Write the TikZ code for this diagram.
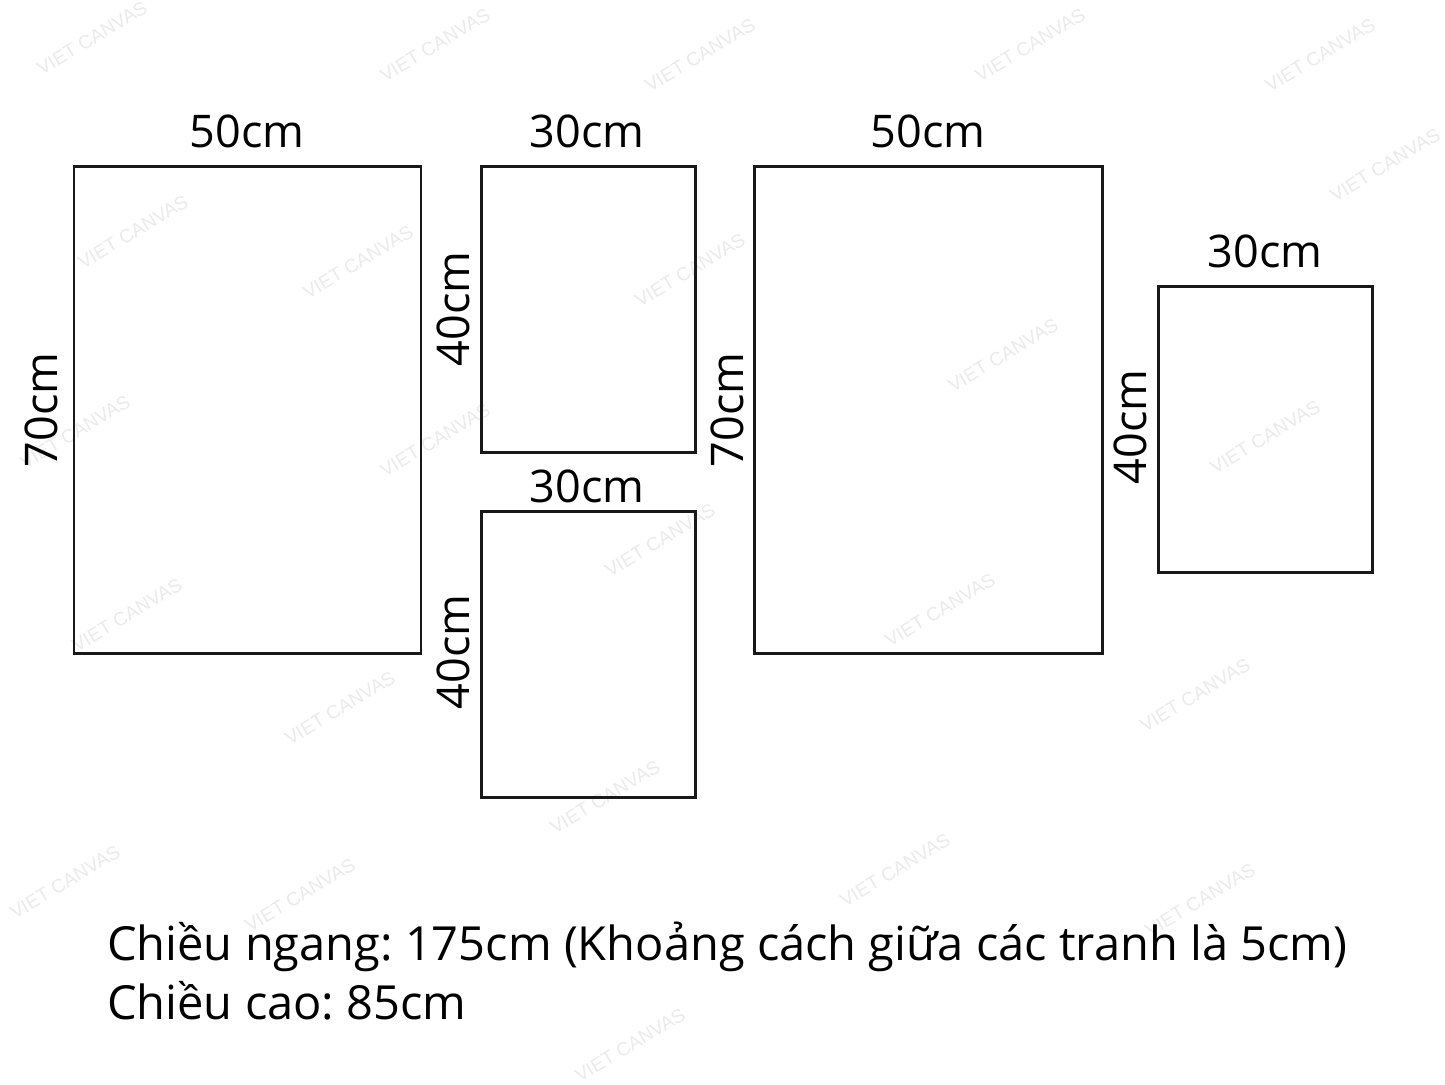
\documentclass[tikz,border=0pt]{standalone}
\usepackage{fontspec}
\setmainfont{Open Sans}
\newfontfamily\wmfont{Liberation Sans}
\frenchspacing
\begin{document}
\begin{tikzpicture}[x=1pt,y=-1pt,
  panel/.style={draw=black!90, line width=2.6pt, inner sep=0pt, anchor=north west},
  dim/.style={font=\fontsize{45}{50}\selectfont, inner sep=0pt, anchor=base},
  vdim/.style={dim, rotate=90},
  info/.style={font=\fontsize{47}{52}\selectfont, inner sep=0pt, anchor=base west},
  wm/.style={font=\wmfont\fontsize{19}{19}\selectfont, text=black!8, rotate=31, inner sep=0pt}]
\useasboundingbox[fill=white] (0,0) rectangle (1445,1084);
% watermarks
\foreach \i/\p in {1/{(92,38)},2/{(435,45)},3/{(700,55)},4/{(1030,45)},5/{(1320,55)},
  6/{(1385,165)},7/{(133,232)},8/{(358,262)},9/{(690,270)},10/{(1003,355)},
  11/{(75,432)},12/{(435,440)},13/{(660,540)},14/{(1265,437)},15/{(127,615)},
  16/{(940,610)},17/{(340,708)},18/{(1195,695)},19/{(605,797)},20/{(65,882)},
  21/{(895,870)},22/{(1200,900)},23/{(630,1045)},24/{(300,895)}}
  \node[wm] (wm\i) at \p {VIET CANVAS};
% panels
\node[panel, minimum width=347pt, minimum height=487pt] (p1) at (72.5,165) {};
\node[panel, minimum width=214pt, minimum height=286pt] (p2) at (480,165) {};
\node[panel, minimum width=214pt, minimum height=286pt] (p3) at (480,510) {};
\node[panel, minimum width=348pt, minimum height=487pt] (p4) at (753,165) {};
\node[panel, minimum width=214pt, minimum height=286pt] (p5) at (1157,285) {};
% dimensions
\node[dim] (w1) at (247,147) {50cm};
\node[dim] (w2) at (587,147) {30cm};
\node[dim] (w3) at (587,502) {30cm};
\node[dim] (w4) at (928,147) {50cm};
\node[dim] (w5) at (1265,267) {30cm};
\node[vdim] (h1) at (57,410) {70cm};
\node[vdim] (h2) at (469,309) {40cm};
\node[vdim] (h3) at (469,652) {40cm};
\node[vdim] (h4) at (743,410) {70cm};
\node[vdim] (h5) at (1146,427) {40cm};
% info
\node[info] (t1) at (107,960) {Chiều ngang: 175cm (Khoảng cách giữa các tranh là 5cm)};
\node[info] (t2) at (107,1019) {Chiều cao: 85cm};
\end{tikzpicture}
\end{document}
